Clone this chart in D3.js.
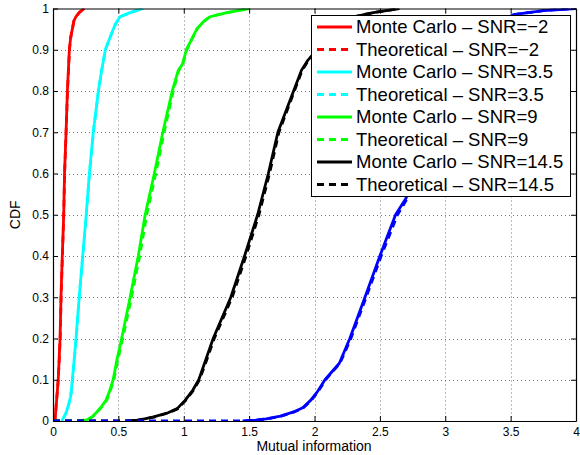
<!DOCTYPE html>
<html lang="en">
<head>
  <meta charset="UTF-8">
  <title>CDF of mutual information</title>
  <script src="https://d3js.org/d3.v7.min.js"></script>
  <style>
    body { margin: 0; background: #fff; overflow: hidden; }
    svg { display: block; font-family: "Liberation Sans", Arial, sans-serif; }
    .grid line { stroke: #777; stroke-width: 1; stroke-dasharray: 1,3; }
    .tick-label { font-size: 12px; fill: #000; }
  </style>
</head>
<body>
  <script>
    // x ticks / y ticks
    const xTicks = [0, 0.5, 1, 1.5, 2, 2.5, 3, 3.5, 4];
    const yTicks = [0, 0.1, 0.2, 0.3, 0.4, 0.5, 0.6, 0.7, 0.8, 0.9, 1];

    // SNR = -2 (red)
    const mcNeg2 = [[0.015,0],[0.02,0.02],[0.03,0.06],[0.04,0.1],[0.047,0.15],[0.054,0.2],[0.061,0.3],[0.071,0.4],[0.082,0.5],[0.088,0.6],[0.1,0.7],[0.11,0.8],[0.125,0.9],[0.135,0.93],[0.148,0.95],[0.16,0.97],[0.175,0.98],[0.2,0.99],[0.24,1]];
    const thNeg2 = [[0,0],[0.012,0],[0.02,0.02],[0.03,0.06],[0.04,0.1],[0.048,0.15],[0.055,0.2],[0.062,0.3],[0.072,0.4],[0.082,0.5],[0.089,0.6],[0.1,0.7],[0.111,0.8],[0.126,0.9],[0.136,0.93],[0.148,0.95],[0.16,0.97],[0.176,0.98],[0.2,0.99],[0.24,1]];

    // SNR = 3.5 (cyan)
    const mc35 = [[0.066,0],[0.085,0.01],[0.1,0.02],[0.12,0.04],[0.135,0.06],[0.148,0.1],[0.176,0.2],[0.2,0.3],[0.227,0.4],[0.254,0.5],[0.278,0.6],[0.308,0.7],[0.347,0.8],[0.372,0.85],[0.4,0.9],[0.436,0.93],[0.474,0.96],[0.512,0.98],[0.59,0.99],[0.69,1]];
    const th35 = [[0,0],[0.06,0],[0.085,0.01],[0.1,0.02],[0.12,0.04],[0.136,0.06],[0.15,0.1],[0.177,0.2],[0.201,0.3],[0.228,0.4],[0.255,0.5],[0.279,0.6],[0.309,0.7],[0.348,0.8],[0.373,0.85],[0.401,0.9],[0.437,0.93],[0.475,0.96],[0.513,0.98],[0.59,0.99],[0.69,1]];

    // SNR = 9 (green)
    const mc9 = [[0.19,0],[0.26,0.003],[0.3,0.01],[0.33,0.02],[0.37,0.035],[0.405,0.05],[0.43,0.07],[0.46,0.1],[0.49,0.15],[0.525,0.2],[0.59,0.3],[0.652,0.4],[0.705,0.5],[0.775,0.6],[0.84,0.7],[0.912,0.8],[0.958,0.85],[0.99,0.865],[1.02,0.9],[1.06,0.925],[1.1,0.95],[1.15,0.968],[1.2,0.98],[1.33,0.99],[1.5,1]];
    const th9 = [[0,0],[0.18,0],[0.26,0.003],[0.3,0.01],[0.335,0.02],[0.375,0.035],[0.41,0.05],[0.435,0.07],[0.465,0.1],[0.497,0.15],[0.533,0.2],[0.6,0.3],[0.663,0.4],[0.717,0.5],[0.786,0.6],[0.85,0.7],[0.92,0.8],[0.962,0.85],[0.993,0.865],[1.022,0.9],[1.062,0.925],[1.1,0.95],[1.15,0.968],[1.2,0.98],[1.33,0.99],[1.5,1]];

    // SNR = 14.5 (black)
    const mc145 = [[0.56,0],[0.65,0.002],[0.7,0.005],[0.77,0.01],[0.88,0.02],[0.95,0.03],[1.01,0.05],[1.07,0.075],[1.115,0.1],[1.17,0.15],[1.225,0.2],[1.36,0.3],[1.465,0.4],[1.565,0.5],[1.647,0.6],[1.72,0.7],[1.84,0.8],[1.9,0.85],[1.95,0.875],[2.02,0.9],[2.15,0.95],[2.3,0.98],[2.45,0.99],[2.65,1]];
    const th145 = [[0,0],[0.55,0],[0.65,0.002],[0.7,0.005],[0.78,0.01],[0.885,0.02],[0.955,0.03],[1.015,0.05],[1.075,0.075],[1.12,0.1],[1.178,0.15],[1.233,0.2],[1.37,0.3],[1.476,0.4],[1.575,0.5],[1.656,0.6],[1.728,0.7],[1.846,0.8],[1.905,0.85],[1.955,0.875],[2.025,0.9],[2.15,0.95],[2.3,0.98],[2.45,0.99],[2.65,1]];

    // SNR = 20 (blue, not in legend)
    const mc20 = [[1.45,0],[1.55,0.002],[1.63,0.005],[1.74,0.012],[1.84,0.022],[1.91,0.032],[1.97,0.05],[2.02,0.07],[2.08,0.1],[2.19,0.14],[2.27,0.2],[2.386,0.3],[2.5,0.4],[2.62,0.5],[2.7,0.54],[2.76,0.6],[2.87,0.7],[3.0,0.8],[3.18,0.9],[3.32,0.95],[3.52,0.985],[3.75,0.995],[4.0,1]];
    const th20 = [[0,0],[1.44,0],[1.55,0.002],[1.635,0.005],[1.745,0.012],[1.845,0.022],[1.915,0.032],[1.975,0.05],[2.025,0.07],[2.085,0.1],[2.195,0.14],[2.278,0.2],[2.395,0.3],[2.51,0.4],[2.635,0.5],[2.71,0.54],[2.77,0.6],[2.88,0.7],[3.0,0.8],[3.18,0.9],[3.32,0.95],[3.52,0.985],[3.75,0.995],[4.0,1]];

    const series = [
      { name: "Monte Carlo – SNR=−2", data: mcNeg2, color: "#ff0000", dashed: false, legend: true },
      { name: "Theoretical – SNR=−2", data: thNeg2, color: "#ff0000", dashed: true, legend: true },
      { name: "Monte Carlo – SNR=3.5", data: mc35, color: "#00ffff", dashed: false, legend: true },
      { name: "Theoretical – SNR=3.5", data: th35, color: "#00ffff", dashed: true, legend: true },
      { name: "Monte Carlo – SNR=9", data: mc9, color: "#00ff00", dashed: false, legend: true },
      { name: "Theoretical – SNR=9", data: th9, color: "#00ff00", dashed: true, legend: true },
      { name: "Monte Carlo – SNR=14.5", data: mc145, color: "#000000", dashed: false, legend: true },
      { name: "Theoretical – SNR=14.5", data: th145, color: "#000000", dashed: true, legend: true },
      { name: "Monte Carlo – SNR=20", data: mc20, color: "#0000ff", dashed: false, legend: false },
      { name: "Theoretical – SNR=20", data: th20, color: "#0000ff", dashed: true, legend: false }
    ];

    const W = 580, H = 455;
    const mLeft = 53, mRight = 576, mTop = 8.5, mBottom = 421;

    const x = d3.scaleLinear().domain([0, 4]).range([mLeft, mRight]);
    const y = d3.scaleLinear().domain([0, 1]).range([mBottom, mTop]);

    const svg = d3.select("body").append("svg").attr("width", W).attr("height", H);

    svg.append("defs").append("clipPath").attr("id", "plot")
      .append("rect")
      .attr("x", mLeft).attr("y", mTop)
      .attr("width", mRight - mLeft).attr("height", mBottom - mTop);

    // grid
    const grid = svg.append("g").attr("class", "grid");
    grid.selectAll(".gx").data(xTicks.slice(1, -1)).join("line")
      .attr("class", "gx")
      .attr("x1", d => Math.round(x(d)) + 0.5).attr("x2", d => Math.round(x(d)) + 0.5)
      .attr("y1", mTop).attr("y2", mBottom);
    grid.selectAll(".gy").data(yTicks.slice(1, -1)).join("line")
      .attr("class", "gy")
      .attr("y1", d => Math.round(y(d)) + 0.5).attr("y2", d => Math.round(y(d)) + 0.5)
      .attr("x1", mLeft).attr("x2", mRight);

    // curves
    const line = d3.line().x(d => x(d[0])).y(d => y(d[1]));
    svg.append("g").attr("clip-path", "url(#plot)")
      .selectAll("path")
      .data(series)
      .join("path")
      .attr("d", d => line(d.data))
      .attr("fill", "none")
      .attr("stroke", d => d.color)
      .attr("stroke-width", 2.8)
      .attr("stroke-linejoin", "round")
      .attr("stroke-dasharray", d => d.dashed ? "7,5" : null);

    // axes: box with inward ticks on all four sides
    const xAxisB = d3.axisBottom(x).tickValues(xTicks).tickSizeInner(-5).tickSizeOuter(0).tickPadding(6).tickFormat(d3.format("~g"));
    const xAxisT = d3.axisTop(x).tickValues(xTicks).tickSizeInner(-5).tickSizeOuter(0).tickFormat("");
    const yAxisL = d3.axisLeft(y).tickValues(yTicks).tickSizeInner(-5).tickSizeOuter(0).tickPadding(4).tickFormat(d3.format("~g"));
    const yAxisR = d3.axisRight(y).tickValues(yTicks).tickSizeInner(-5).tickSizeOuter(0).tickFormat("");

    const gB = svg.append("g").attr("transform", `translate(0,${mBottom})`).call(xAxisB);
    const gT = svg.append("g").attr("transform", `translate(0,${mTop})`).call(xAxisT);
    const gL = svg.append("g").attr("transform", `translate(${mLeft},0)`).call(yAxisL);
    const gR = svg.append("g").attr("transform", `translate(${mRight},0)`).call(yAxisR);

    [gB, gT, gL, gR].forEach(g => {
      g.attr("font-family", null).attr("font-size", null);
      g.select(".domain").attr("stroke", "#000").attr("stroke-width", 1.2);
      g.selectAll(".tick line").attr("stroke", "#000");
      g.selectAll("text").attr("class", "tick-label");
    });

    // axis labels
    svg.append("text")
      .attr("x", (mLeft + mRight) / 2 - 0.5)
      .attr("y", 451)
      .attr("text-anchor", "middle")
      .attr("font-size", "14px")
      .text("Mutual information");

    svg.append("text")
      .attr("transform", `translate(20,${(mTop + mBottom) / 2}) rotate(-90)`)
      .attr("text-anchor", "middle")
      .attr("font-size", "14px")
      .text("CDF");

    // legend
    const legendItems = series.filter(d => d.legend);
    const legend = svg.append("g");
    legend.append("rect")
      .attr("x", 311.5).attr("y", 15.5)
      .attr("width", 259).attr("height", 181)
      .attr("fill", "#fff").attr("stroke", "#000").attr("stroke-width", 1);

    const rows = legend.selectAll("g.row").data(legendItems).join("g")
      .attr("class", "row")
      .attr("transform", (d, i) => `translate(0,${27 + i * 22.5})`);

    rows.append("line")
      .attr("x1", 317).attr("x2", 352)
      .attr("stroke", d => d.color)
      .attr("stroke-width", 2.8)
      .attr("stroke-dasharray", d => d.dashed ? "7,5" : null);

    rows.append("text")
      .attr("x", 356)
      .attr("y", 0)
      .attr("dy", "0.35em")
      .attr("font-size", "18.5px")
      .text(d => d.name);
  </script>
</body>
</html>
